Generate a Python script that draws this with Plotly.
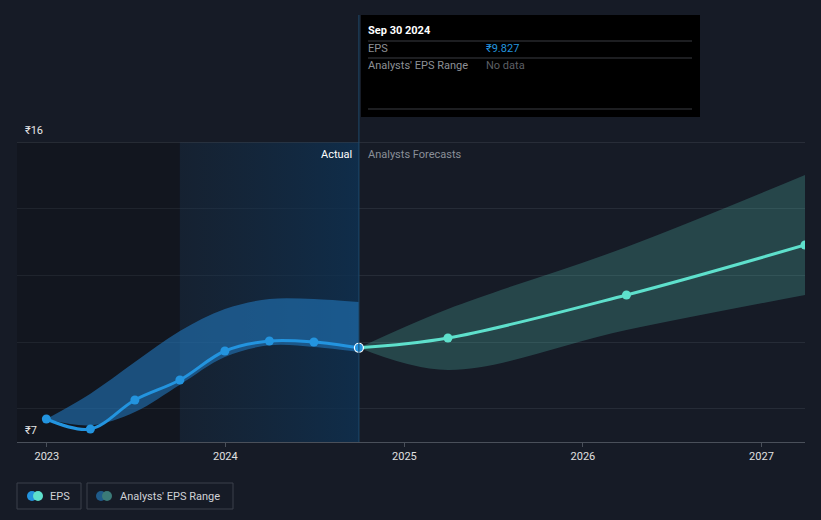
import plotly.graph_objects as go

# EPS history (quarterly, trailing) and analyst forecasts
eps_dates = ["2022-12-31", "2023-03-31", "2023-06-30", "2023-09-30",
             "2023-12-31", "2024-03-31", "2024-06-30", "2024-09-30"]
eps_values = [7.69, 7.39, 8.26, 8.86, 9.73, 10.03, 10.0, 9.827]

past_range_high = [7.69, 8.45, 9.40, 10.33, 10.99, 11.29, 11.29, 11.20]
past_range_low = [7.69, 7.50, 7.90, 8.72, 9.55, 9.90, 9.85, 9.70]

fc_dates = ["2024-09-30", "2025-03-31", "2026-03-31", "2027-03-31"]
fc_values = [9.827, 10.12, 11.41, 12.91]
fc_high = [9.827, 10.99, 12.85, 15.01]
fc_low = [9.827, 9.16, 10.36, 11.41]

year_ticks = ["2023-01-01", "2024-01-01", "2025-01-01", "2026-01-01", "2027-01-01"]
year_labels = ["2023", "2024", "2025", "2026", "2027"]

BG = "#161b26"
BLUE = "#2394df"
TEAL = "#5ee0cc"

# plot area in pixels: x 17..805, y 142..442
L, R, T, B = 17, 805, 142, 442


def px(x):
    return (x - L) / (R - L)


def py(y):
    return (B - y) / (B - T)


fig = go.Figure()

# darker zone before the highlighted year
fig.add_trace(go.Scatter(
    x=["2022-11-01", eps_dates[3], eps_dates[3], "2022-11-01", "2022-11-01"],
    y=[7, 7, 16, 16, 7], fill="toself", fillcolor="rgba(0,0,0,0.18)",
    line=dict(width=0), mode="lines", hoverinfo="skip", showlegend=False))

# highlighted last-12-months zone
fig.add_trace(go.Scatter(
    x=[eps_dates[3], eps_dates[-1], eps_dates[-1], eps_dates[3], eps_dates[3]],
    y=[7, 7, 16, 16, 7], fill="toself",
    fillgradient=dict(type="horizontal",
                      colorscale=[[0, "rgba(20,45,70,0.35)"], [1, "rgba(14,48,80,0.85)"]]),
    line=dict(width=0), mode="lines", hoverinfo="skip", showlegend=False))

# past analyst range band
fig.add_trace(go.Scatter(x=eps_dates, y=past_range_low, mode="lines",
                         line=dict(width=0, shape="spline"), hoverinfo="skip", showlegend=False))
fig.add_trace(go.Scatter(x=eps_dates, y=past_range_high, mode="lines", fill="tonexty",
                         fillcolor="rgba(33,118,186,0.6)",
                         line=dict(width=0, shape="spline"), hoverinfo="skip", showlegend=False))

# forecast range band
fig.add_trace(go.Scatter(x=fc_dates, y=fc_low, mode="lines",
                         line=dict(width=0, shape="spline"), hoverinfo="skip", showlegend=False))
fig.add_trace(go.Scatter(x=fc_dates, y=fc_high, mode="lines", fill="tonexty",
                         fillcolor="rgba(94,224,204,0.22)",
                         line=dict(width=0, shape="spline"), hoverinfo="skip", showlegend=False))

# forecast line
fig.add_trace(go.Scatter(x=fc_dates[1:], y=fc_values[1:], mode="markers",
                         marker=dict(color=TEAL, size=9), showlegend=False))
fig.add_trace(go.Scatter(x=fc_dates, y=fc_values, mode="lines",
                         line=dict(color=TEAL, width=3, shape="spline"), showlegend=False))

# actual EPS
fig.add_trace(go.Scatter(x=eps_dates, y=eps_values, mode="lines+markers",
                         line=dict(color=BLUE, width=3, shape="spline"),
                         marker=dict(color=BLUE, size=9), showlegend=False))
fig.add_trace(go.Scatter(x=[eps_dates[-1]], y=[eps_values[-1]], mode="markers",
                         marker=dict(color=BLUE, size=9, line=dict(color="white", width=1.2)),
                         showlegend=False))

shapes = [
    # top grid line
    dict(type="line", xref="paper", yref="y", x0=0, x1=1, y0=16, y1=16,
         line=dict(color="#3b414b", width=1)),
    # cursor line up to tooltip
    dict(type="line", xref="x", yref="paper", x0=eps_dates[-1], x1=eps_dates[-1],
         y0=0, y1=py(15), line=dict(color="#1d4a6c", width=1)),
    # tooltip box
    dict(type="rect", xref="paper", yref="paper", x0=px(361), x1=px(700),
         y0=py(117), y1=py(15), fillcolor="#000000", line=dict(width=0)),
]
for yy in (41, 58, 109):
    shapes.append(dict(type="line", xref="paper", yref="paper", x0=px(368), x1=px(692),
                       y0=py(yy), y1=py(yy), line=dict(color="#3a3d42", width=1)))

# legend boxes
for x0, x1 in ((17, 81), (87, 233)):
    shapes.append(dict(type="rect", xref="paper", yref="paper", x0=px(x0), x1=px(x1),
                       y0=py(509), y1=py(483), line=dict(color="#3a404b", width=1),
                       fillcolor="rgba(0,0,0,0)"))
for cx, col in ((32, BLUE), (38, TEAL), (101, "#1f5b8a"), (107, "#3b7a78")):
    shapes.append(dict(type="circle", xref="paper", yref="paper",
                       x0=px(cx - 5), x1=px(cx + 5), y0=py(501), y1=py(491),
                       fillcolor=col, line=dict(width=0)))

font = "Roboto, 'Noto Sans', sans-serif"


def label(text, x, y, color, anchor="left", size=11):
    return dict(text=text, x=px(x), y=py(y), xref="paper", yref="paper", showarrow=False,
                xanchor=anchor, yanchor="middle", borderpad=0,
                font=dict(color=color, size=size))


annotations = [
    label("₹16", 24, 130, "#e6e6e6"),
    label("₹7", 24, 430, "#e6e6e6"),
    label("Actual", 353, 154, "#ffffff", "right"),
    label("Analysts Forecasts", 367, 154, "#8a8f98"),
    label("<b>Sep 30 2024</b>", 367, 31, "#ffffff"),
    label("EPS", 367, 49, "#8d9096"),
    label("₹9.827", 485, 49, BLUE),
    label("Analysts' EPS Range", 367, 66, "#8d9096"),
    label("No data", 485, 66, "#5c5f64"),
    label("EPS", 49, 496, "#d0d2d6"),
    label("Analysts' EPS Range", 119, 496, "#d0d2d6"),
]

fig.update_layout(
    width=821, height=520,
    paper_bgcolor=BG, plot_bgcolor=BG,
    margin=dict(l=L, r=821 - R, t=T, b=520 - B),
    font=dict(family=font, color="#d0d2d6", size=11),
    showlegend=False,
    hovermode=False,
    shapes=shapes,
    annotations=annotations,
    xaxis=dict(type="date", range=["2022-11-01", "2027-03-31"],
               tickvals=year_ticks, ticktext=year_labels,
               showgrid=False, zeroline=False,
               showline=True, linecolor="#4a505a", linewidth=1,
               ticks="outside", ticklen=4, tickcolor="#4a505a",
               tickfont=dict(color="#e0e0e0", size=11)),
    yaxis=dict(range=[7, 16], tickvals=[8, 10, 12, 14], showticklabels=False,
               gridcolor="#262c37", gridwidth=1, zeroline=False, showline=False),
)

fig.write_html("out.html", config={"displayModeBar": False},
               post_script="document.body.style.margin='0';")
